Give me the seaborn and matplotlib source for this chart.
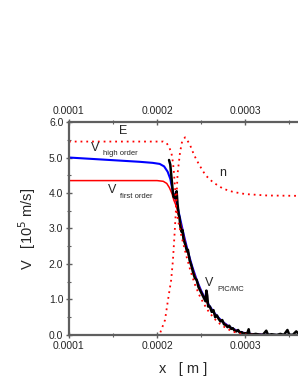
import numpy as np
import pandas as pd
import seaborn as sns
import matplotlib.pyplot as plt

# podaci ocitani sa slike (x u metrima, V u 1e5 m/s)
x_high = [0.000100, 0.000120, 0.000140, 0.000160, 0.000180, 0.000195, 0.000203, 0.000208,
          0.000212, 0.000215, 0.000217, 0.000219, 0.000222, 0.000226, 0.000230, 0.000235,
          0.000240, 0.000245, 0.000250, 0.000255, 0.000260, 0.000265, 0.000270, 0.000275,
          0.000280, 0.000285, 0.000290, 0.000295, 0.000300, 0.000310, 0.000320, 0.000330, 0.000360]
v_high = [5.00, 4.97, 4.94, 4.91, 4.88, 4.85, 4.82, 4.75,
          4.60, 4.40, 4.15, 3.95, 3.75, 3.30, 2.85, 2.35,
          1.92, 1.55, 1.25, 1.00, 0.80, 0.62, 0.48, 0.36,
          0.27, 0.19, 0.13, 0.08, 0.05, 0.02, 0.01, 0.00, 0.00]

x_first = [0.000100, 0.000150, 0.000200, 0.000207, 0.000211, 0.000214, 0.000217, 0.000219,
           0.000222, 0.000226, 0.000230, 0.000235, 0.000240, 0.000245, 0.000250, 0.000255,
           0.000260, 0.000265, 0.000270, 0.000275, 0.000280, 0.000285, 0.000290, 0.000295,
           0.000300, 0.000310, 0.000320, 0.000330, 0.000360]
v_first = [4.35, 4.35, 4.35, 4.33, 4.27, 4.15, 3.98, 3.80,
           3.62, 3.22, 2.80, 2.30, 1.88, 1.52, 1.22, 0.98,
           0.78, 0.60, 0.46, 0.35, 0.26, 0.18, 0.12, 0.08,
           0.05, 0.02, 0.01, 0.00, 0.00]

x_pic = [0.0002136, 0.0002150, 0.0002165, 0.0002180, 0.0002190, 0.0002200, 0.0002210, 0.0002222,
         0.0002232, 0.0002245, 0.0002255, 0.0002265, 0.000228, 0.000229, 0.000230, 0.000232,
         0.000234, 0.000235, 0.000237, 0.000239, 0.000241, 0.000243, 0.000245, 0.000247,
         0.000249, 0.000251, 0.000253, 0.000255, 0.000256, 0.000257, 0.000258, 0.000260,
         0.000262, 0.000264, 0.000266, 0.000268, 0.000270, 0.000272, 0.000274, 0.000276,
         0.000278, 0.000280, 0.000282, 0.000284, 0.000286, 0.000288, 0.000290, 0.000292,
         0.000294, 0.000296, 0.000298, 0.000300, 0.000302, 0.000304, 0.000305, 0.000308,
         0.000312, 0.000316, 0.000320, 0.000324, 0.000326, 0.000330, 0.000336, 0.000340,
         0.000344, 0.000348, 0.000350, 0.000354, 0.000358, 0.000360]
v_pic = [4.93, 4.80, 4.40, 4.00, 3.88, 3.95, 3.85, 4.05,
         3.70, 3.40, 3.30, 3.05, 2.90, 2.95, 2.70, 2.55,
         2.35, 2.40, 2.10, 1.95, 1.75, 1.60, 1.55, 1.35,
         1.25, 1.15, 1.05, 0.95, 1.25, 1.10, 0.80, 0.80,
         0.65, 0.70, 0.50, 0.55, 0.45, 0.38, 0.42, 0.30,
         0.28, 0.22, 0.26, 0.17, 0.19, 0.12, 0.10, 0.14,
         0.06, 0.08, 0.03, 0.05, 0.02, 0.16, 0.02, 0.01,
         0.03, 0.01, 0.00, 0.12, 0.00, 0.02, 0.00, 0.03,
         0.00, 0.14, 0.01, 0.00, 0.10, 0.05]

x_E = [0.000100, 0.000150, 0.000207, 0.000211, 0.0002136, 0.0002163, 0.0002181, 0.0002192,
       0.000220, 0.0002208, 0.0002215, 0.000224, 0.000228, 0.000233, 0.000238, 0.000243,
       0.000248, 0.000253, 0.000258, 0.000263, 0.000268, 0.000273, 0.000278, 0.000283,
       0.000288, 0.000293, 0.000298, 0.000305]
v_E = [5.45, 5.45, 5.45, 5.40, 5.30, 5.13, 4.85, 4.56,
       4.28, 4.00, 3.60, 3.20, 2.75, 2.25, 1.80, 1.42,
       1.12, 0.88, 0.68, 0.52, 0.38, 0.28, 0.20, 0.13,
       0.08, 0.04, 0.02, 0.00]

x_n = [0.000100, 0.000150, 0.000200, 0.0002034, 0.000209, 0.0002125, 0.000216, 0.000218,
       0.000220, 0.0002216, 0.0002233, 0.0002261, 0.0002284, 0.0002318, 0.000234, 0.0002375,
       0.000242, 0.0002477, 0.000255, 0.0002636, 0.000275, 0.0002864, 0.000300, 0.000325, 0.000360]
v_n = [0.00, 0.00, 0.00, 0.05, 0.42, 1.00, 1.55, 2.10,
       2.90, 3.60, 4.55, 5.15, 5.45, 5.57, 5.50, 5.35,
       5.07, 4.80, 4.50, 4.30, 4.12, 4.03, 3.97, 3.93, 3.92]

sns.set_style("ticks")
plt.rcParams['font.family'] = ['Liberation Sans', 'DejaVu Sans']

fig = plt.figure(figsize=(2.98, 3.85), dpi=100)
ax = fig.add_axes([0.2315, 0.13, 0.7685, 0.553])

dots = (0, (1, 2.2))
sns.lineplot(x=x_high, y=v_high, ax=ax, color='blue', lw=1.5, sort=False, estimator=None)
sns.lineplot(x=x_first, y=v_first, ax=ax, color='red', lw=1.1, sort=False, estimator=None)
sns.lineplot(x=x_pic, y=v_pic, ax=ax, color='black', lw=1.8, sort=False, estimator=None)
sns.lineplot(x=x_E, y=v_E, ax=ax, color='red', lw=1.3, ls=dots, sort=False, estimator=None)
sns.lineplot(x=x_n, y=v_n, ax=ax, color='red', lw=1.3, ls=dots, sort=False, estimator=None)

ax.set_xlim(0.0001, 0.00036)
ax.set_ylim(0, 6)
ax.set_xticks([0.0001, 0.0002, 0.0003])
ax.set_xticklabels(['0.0001', '0.0002', '0.0003'])
ax.set_xticks([0.00015, 0.00025, 0.00035], minor=True)
ax.set_yticks(np.arange(0, 6.1, 1.0))
ax.set_yticklabels(['%.1f' % v for v in np.arange(0, 6.1, 1.0)])
ax.set_yticks(np.arange(0.5, 6, 1.0), minor=True)

gray = '#5f5f5f'
for s in ['left', 'bottom', 'top']:
    ax.spines[s].set_color(gray)
    ax.spines[s].set_linewidth(1.6)
ax.spines['right'].set_visible(False)
ax.tick_params(which='major', direction='inout', length=5, width=1.0, color=gray,
               labelsize=7.5, pad=1.5, top=True, labeltop=True, right=False)
ax.tick_params(which='minor', direction='inout', length=3, width=0.8, color=gray,
               top=True, right=False)

ax.set_xlabel('x   [ m ]', fontsize=10.5, labelpad=8)
ax.set_ylabel('V   [10$^5$ m/s]', fontsize=10.5, labelpad=8)

# oznake krivulja
ax.text(0.0001614, 5.75, 'E', fontsize=9, ha='center', va='center')
ax.text(0.0001295, 5.27, 'V', fontsize=9, ha='center', va='center')
ax.text(0.0001390, 5.10, 'high order', fontsize=5.5, ha='left', va='center')
ax.text(0.0001489, 4.08, 'V', fontsize=9, ha='center', va='center')
ax.text(0.0001580, 3.90, 'first order', fontsize=5.5, ha='left', va='center')
ax.text(0.000275, 4.56, 'n', fontsize=9, ha='center', va='center')
ax.text(0.000259, 1.46, 'V', fontsize=9, ha='center', va='center')
ax.text(0.0002685, 1.28, 'PIC/MC', fontsize=5.5, ha='left', va='center')

fig.savefig('out.png', dpi=100)
